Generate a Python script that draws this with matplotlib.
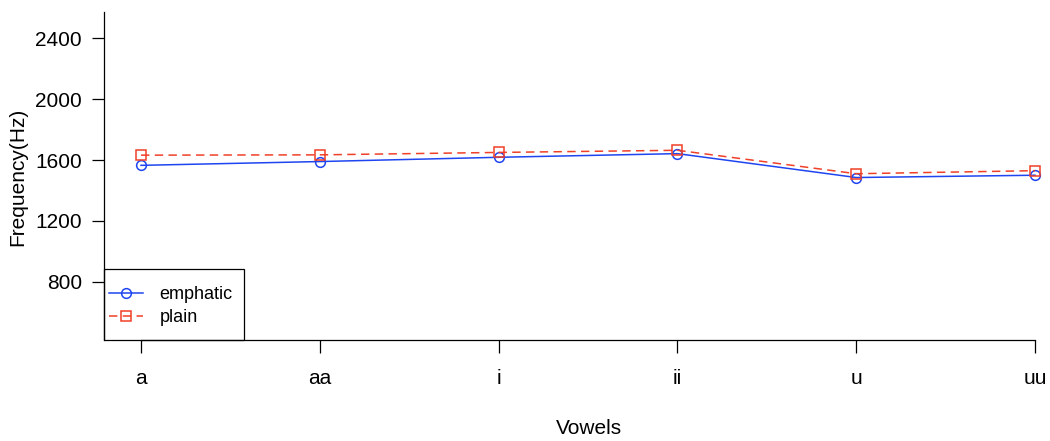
import matplotlib.pyplot as plt
from matplotlib.patches import Rectangle

vowels = ["a", "aa", "i", "ii", "u", "uu"]
emphatic = [1565, 1590, 1618, 1642, 1485, 1500]
plain = [1632, 1634, 1650, 1664, 1510, 1530]
y_ticks = [800, 1200, 1600, 2000, 2400]

BLUE = "#1f45f0"
RED = "#f04028"

plt.rcParams["font.family"] = ["Liberation Sans", "DejaVu Sans"]

fig = plt.figure(figsize=(10.5, 4.41), dpi=100)
ax = fig.add_axes([104 / 1050, 1 - 340 / 441, 946 / 1050, 328 / 441])

x = list(range(1, len(vowels) + 1))
ax.plot(x, emphatic, color=BLUE, lw=1.1, marker="o", ms=7,
        mfc="none", mec=BLUE, mew=1.1, label="emphatic")
ax.plot(x, plain, color=RED, lw=1.1, ls=(0, (5.5, 3.5)), marker="s", ms=6.5,
        mfc="none", mec=RED, mew=1.1, label="plain")

ax.set_xlim(0.793, 6.084)
ax.set_ylim(417, 2573)
ax.set_xticks(x)
ax.set_xticklabels(vowels)
ax.set_yticks(y_ticks)

for side in ["top", "right"]:
    ax.spines[side].set_visible(False)
ax.spines["bottom"].set_bounds(1, 6)
ax.spines["left"].set_linewidth(0.9)
ax.spines["bottom"].set_linewidth(0.9)
ax.tick_params(axis="both", direction="out", length=9, width=0.9,
               labelsize=15)
ax.tick_params(axis="y", pad=7)
ax.tick_params(axis="x", pad=12)

fig.text(18 / 1050, 1 - 177 / 441, "Frequency(Hz)", rotation=90,
         ha="center", va="center", fontsize=15)
fig.text(589 / 1050, 1 - 428 / 441, "Vowels", ha="center", va="center",
         fontsize=15)

ax.add_patch(Rectangle((0, 0), 140 / 946, 71 / 328, transform=ax.transAxes,
                       fill=False, edgecolor="black", lw=0.9, clip_on=False,
                       zorder=5))
ax.legend(loc="center left", bbox_to_anchor=(5 / 946, 34 / 328),
          frameon=False, fontsize=13, borderpad=0, borderaxespad=0,
          handlelength=1.9, handletextpad=0.9, labelspacing=0.35)

fig.savefig("out.png", dpi=100)
